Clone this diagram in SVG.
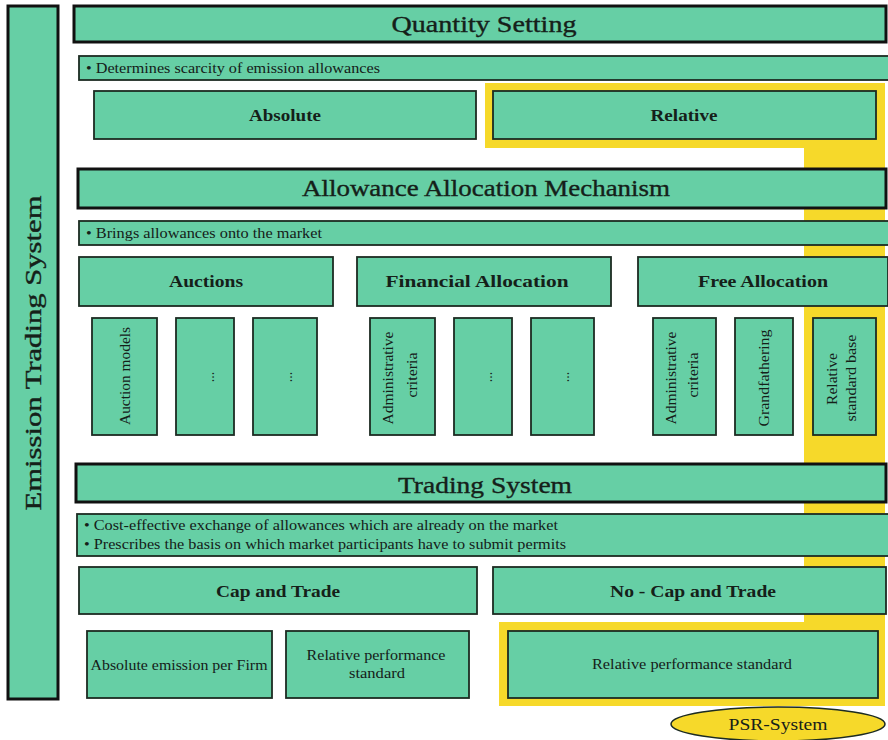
<svg xmlns="http://www.w3.org/2000/svg" width="888" height="740" viewBox="0 0 888 740">
<style>
.bg{fill:#ffffff}
.box{fill:#66cfa5;stroke:#1c2b22;stroke-width:1.8}
.hdr{fill:#66cfa5;stroke:#111;stroke-width:3}
.hl{fill:#f6d92a}
.t{font-family:"Liberation Serif",serif;fill:#152019}
.h{font-size:23px;text-anchor:middle;stroke:#152019;stroke-width:0.35}
.b{font-size:16px;font-weight:bold;text-anchor:middle}
.s{font-size:14px}
.c{font-size:14px;text-anchor:middle}
</style>
<rect class="bg" x="0" y="0" width="888" height="740"/>
<g id="highlight">
<polygon class="hl" points="485,83 885,83 885,706 499,706 499,622 804,622 804,148 485,148"/>
</g>
<g id="connectors"></g>
<g id="emission-trading-system">
<rect class="hdr" x="8" y="6" width="50" height="693"/>
<text class="t h" transform="translate(41,353) rotate(-90)" textLength="315" lengthAdjust="spacingAndGlyphs">Emission Trading System</text>
</g>
<g id="quantity-setting">
<rect class="hdr" x="74" y="6" width="812" height="36"/>
<text class="t h" x="484" y="32" textLength="185" lengthAdjust="spacingAndGlyphs">Quantity Setting</text>
</g>
<g id="qs-note">
<rect class="box" x="79" y="56" width="811" height="24"/>
<text class="t s" x="86" y="73" textLength="294" lengthAdjust="spacingAndGlyphs">• Determines scarcity of emission allowances</text>
</g>
<g id="absolute">
<rect class="box" x="94" y="91" width="382" height="48"/>
<text class="t b" x="285" y="121" textLength="72" lengthAdjust="spacingAndGlyphs">Absolute</text>
</g>
<g id="relative">
<rect class="box" x="493" y="91" width="383" height="48"/>
<text class="t b" x="684" y="121" textLength="67" lengthAdjust="spacingAndGlyphs">Relative</text>
</g>
<g id="allowance-allocation">
<rect class="hdr" x="78" y="169" width="808" height="39"/>
<text class="t h" x="486" y="196" textLength="368" lengthAdjust="spacingAndGlyphs">Allowance Allocation Mechanism</text>
</g>
<g id="aa-note">
<rect class="box" x="79" y="221" width="811" height="24"/>
<text class="t s" x="86" y="238" textLength="236" lengthAdjust="spacingAndGlyphs">• Brings allowances onto the market</text>
</g>
<g id="auctions">
<rect class="box" x="79" y="257" width="254" height="49"/>
<text class="t b" x="206" y="287" textLength="74" lengthAdjust="spacingAndGlyphs">Auctions</text>
</g>
<g id="financial-allocation">
<rect class="box" x="357" y="257" width="254" height="49"/>
<text class="t b" x="477" y="287" textLength="183" lengthAdjust="spacingAndGlyphs">Financial Allocation</text>
</g>
<g id="free-allocation">
<rect class="box" x="638" y="257" width="250" height="49"/>
<text class="t b" x="763" y="287" textLength="130" lengthAdjust="spacingAndGlyphs">Free Allocation</text>
</g>
<g id="auction-models">
<rect class="box" x="92" y="318" width="65" height="117"/>
<text class="t c" transform="translate(130,376) rotate(-90)" textLength="98" lengthAdjust="spacingAndGlyphs">Auction models</text>
</g>
<g id="auction-2">
<rect class="box" x="176" y="318" width="58" height="117"/>
<text class="t c" transform="translate(214,377) rotate(-90)">...</text>
</g>
<g id="auction-3">
<rect class="box" x="253" y="318" width="64" height="117"/>
<text class="t c" transform="translate(292,377) rotate(-90)">...</text>
</g>
<g id="fin-admin">
<rect class="box" x="370" y="318" width="65" height="117"/>
<text class="t c" transform="translate(393,378) rotate(-90)" textLength="93" lengthAdjust="spacingAndGlyphs">Administrative</text>
<text class="t c" transform="translate(417,375) rotate(-90)" textLength="45" lengthAdjust="spacingAndGlyphs">criteria</text>
</g>
<g id="fin-2">
<rect class="box" x="454" y="318" width="58" height="117"/>
<text class="t c" transform="translate(492,377) rotate(-90)">...</text>
</g>
<g id="fin-3">
<rect class="box" x="531" y="318" width="63" height="117"/>
<text class="t c" transform="translate(569,377) rotate(-90)">...</text>
</g>
<g id="free-admin">
<rect class="box" x="653" y="318" width="63" height="117"/>
<text class="t c" transform="translate(676,378) rotate(-90)" textLength="93" lengthAdjust="spacingAndGlyphs">Administrative</text>
<text class="t c" transform="translate(698,375) rotate(-90)" textLength="45" lengthAdjust="spacingAndGlyphs">criteria</text>
</g>
<g id="grandfathering">
<rect class="box" x="735" y="318" width="58" height="117"/>
<text class="t c" transform="translate(769,378) rotate(-90)" textLength="97" lengthAdjust="spacingAndGlyphs">Grandfathering</text>
</g>
<g id="relative-standard-base">
<rect class="box" x="813" y="318" width="63" height="117"/>
<text class="t c" transform="translate(837,379) rotate(-90)" textLength="52" lengthAdjust="spacingAndGlyphs">Relative</text>
<text class="t c" transform="translate(856,378) rotate(-90)" textLength="87" lengthAdjust="spacingAndGlyphs">standard base</text>
</g>
<g id="trading-system">
<rect class="hdr" x="76" y="464" width="810" height="38"/>
<text class="t h" x="485" y="493" textLength="174" lengthAdjust="spacingAndGlyphs">Trading System</text>
</g>
<g id="ts-note">
<rect class="box" x="77" y="514" width="813" height="42"/>
<text class="t s" x="84" y="530" textLength="474" lengthAdjust="spacingAndGlyphs">• Cost-effective exchange of allowances which are already on the market</text>
<text class="t s" x="84" y="549" textLength="482" lengthAdjust="spacingAndGlyphs">• Prescribes the basis on which market participants have to submit permits</text>
</g>
<g id="cap-and-trade">
<rect class="box" x="79" y="567" width="398" height="47"/>
<text class="t b" x="278" y="597" textLength="124" lengthAdjust="spacingAndGlyphs">Cap and Trade</text>
</g>
<g id="no-cap-and-trade">
<rect class="box" x="493" y="567" width="393" height="47"/>
<text class="t b" x="693" y="597" textLength="166" lengthAdjust="spacingAndGlyphs">No - Cap and Trade</text>
</g>
<g id="absolute-emission">
<rect class="box" x="87" y="631" width="185" height="67"/>
<text class="t c" x="179" y="670" textLength="177" lengthAdjust="spacingAndGlyphs">Absolute emission per Firm</text>
</g>
<g id="relative-performance-1">
<rect class="box" x="286" y="631" width="183" height="67"/>
<text class="t c" x="376" y="660" textLength="139" lengthAdjust="spacingAndGlyphs">Relative performance</text>
<text class="t c" x="377" y="678" textLength="56" lengthAdjust="spacingAndGlyphs">standard</text>
</g>
<g id="relative-performance-2">
<rect class="box" x="508" y="631" width="370" height="67"/>
<text class="t c" x="692" y="669" textLength="200" lengthAdjust="spacingAndGlyphs">Relative performance standard</text>
</g>
<g id="psr-system">
<ellipse cx="778" cy="724" rx="107" ry="17" fill="#f6d92a" stroke="#1c2b22" stroke-width="1.5"/>
<text class="t" x="778" y="730" font-size="16" text-anchor="middle" textLength="99" lengthAdjust="spacingAndGlyphs">PSR-System</text>
</g>
</svg>
